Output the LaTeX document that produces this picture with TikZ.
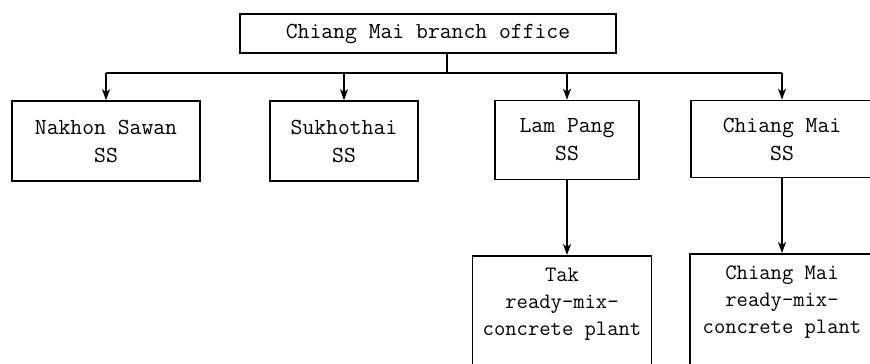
\documentclass[tikz,border=0pt]{standalone}
\usetikzlibrary{arrows.meta}

\begin{document}
\begin{tikzpicture}[x=1pt,y=-1pt,>={Stealth[length=11pt,width=8pt,inset=3pt]},
    box/.style={draw,line width=1.6pt,align=center,inner sep=0pt,
        font=\ttfamily\fontsize{23}{28}\selectfont},
    plant/.style={box,anchor=north,inner xsep=0pt,inner ysep=12pt,text depth=110pt,
        font=\ttfamily\fontsize{22}{27}\selectfont},
    link/.style={line width=1.6pt}]

        % =========================================================
        % Bildausschnitt 870 x 364 (unten und rechts abgeschnitten)
        % =========================================================
        \useasboundingbox (0,0) rectangle (870,364);
        \clip (0,0) rectangle (870,364);

        % Zweigstelle
        \node[box,minimum width=376,minimum height=39] (office) at (428,33.5)
            {Chiang Mai branch office};

        % Sammelleitung
        \coordinate (bus) at (447,73);

        % ---------------------------------------------------------
        % Erste Ebene: SS
        % ---------------------------------------------------------
        \node[box,minimum width=188,minimum height=80] (nakhon) at (106,141)
            {Nakhon Sawan\\SS};
        \node[box,minimum width=148,minimum height=80] (sukho) at (344,141)
            {Sukhothai\\SS};
        \node[box,minimum width=144,minimum height=79] (lampang) at (567,140)
            {Lam Pang\\SS};
        \node[box,minimum width=182,minimum height=77] (cmss) at (782,139)
            {Chiang Mai\\SS};

        % ---------------------------------------------------------
        % Zweite Ebene: Betonwerke
        % ---------------------------------------------------------
        \node[plant,minimum width=179] (tak) at (562,255)
            {Tak\\ready-mix-\\concrete plant};
        \node[plant,minimum width=184] (cmplant) at (782,253)
            {Chiang Mai\\ready-mix-\\concrete plant};

        % Verbindungen
        \draw[link] (bus |- office.south) -- (bus);
        \draw[link] (nakhon |- bus) -- (cmss |- bus);
        \foreach \n in {nakhon,sukho,lampang,cmss}
            \draw[link,->] (\n |- bus) -- (\n.north);

        \draw[link,->] (lampang.south) -- (lampang.south |- tak.north);
        \draw[link,->] (cmss.south) -- (cmss.south |- cmplant.north);

\end{tikzpicture}
\end{document}
